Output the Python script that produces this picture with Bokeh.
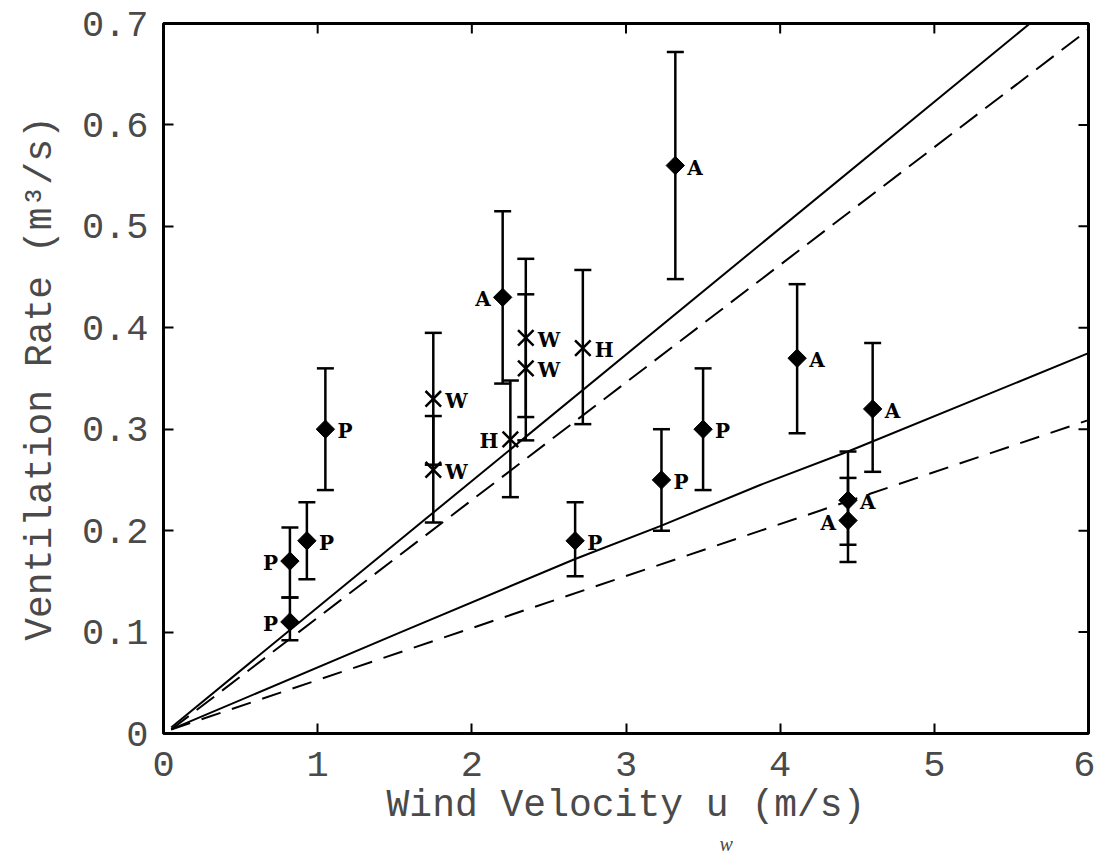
import math
from bokeh.plotting import figure
from bokeh.layouts import column
from bokeh.models import (ColumnDataSource, Whisker, TeeHead, Range1d,
                          FixedTicker, CustomJSTickFormatter)
from bokeh.core.properties import value
from bokeh.embed import file_html
from bokeh.resources import INLINE

# ---------------- data ----------------
x_ticks = [0, 1, 2, 3, 4, 5, 6]
x_tick_labels = ["0", "1", "2", "3", "4", "5", "6"]
y_ticks = [0, 0.1, 0.2, 0.3, 0.4, 0.5, 0.6, 0.7]
y_tick_labels = ["0", "0.1", "0.2", "0.3", "0.4", "0.5", "0.6", "0.7"]

# P points (filled diamonds)
p_x = [0.82, 0.82, 0.93, 1.05, 2.67, 3.23, 3.50]
p_y = [0.17, 0.11, 0.19, 0.30, 0.19, 0.25, 0.30]
p_lo = [0.134, 0.092, 0.152, 0.240, 0.155, 0.200, 0.240]
p_hi = [0.203, 0.134, 0.228, 0.360, 0.228, 0.300, 0.360]
p_side = ["l", "l", "r", "r", "r", "r", "r"]

# A points (filled diamonds)
a_x = [2.20, 3.32, 4.11, 4.60, 4.44, 4.44]
a_y = [0.43, 0.56, 0.37, 0.32, 0.23, 0.21]
a_lo = [0.345, 0.448, 0.296, 0.258, 0.186, 0.169]
a_hi = [0.515, 0.672, 0.443, 0.385, 0.278, 0.252]
a_side = ["l", "r", "r", "r", "r", "l"]

# W points (x markers)
w_x = [1.75, 1.75, 2.35, 2.35]
w_y = [0.33, 0.26, 0.39, 0.36]
w_lo = [0.265, 0.208, 0.312, 0.289]
w_hi = [0.395, 0.313, 0.468, 0.433]
w_side = ["r", "r", "r", "r"]

# H points (x markers)
h_x = [2.25, 2.72]
h_y = [0.29, 0.38]
h_lo = [0.233, 0.305]
h_hi = [0.348, 0.457]
h_side = ["l", "r"]

# model lines
up_solid_x = [0.05, 5.62]
up_solid_y = [0.006, 0.700]
up_dash_x = [0.05, 6.0]
up_dash_y = [0.004, 0.694]
lo_solid_x = [0.05, 1.54, 2.67, 3.23, 3.87, 4.44, 6.0]
lo_solid_y = [0.004, 0.100, 0.172, 0.205, 0.245, 0.278, 0.375]
lo_dash_x = [0.05, 6.0]
lo_dash_y = [0.004, 0.309]

x_title = "Wind Velocity u (m/s)"
x_title_sub = "w"
y_title = "Ventilation Rate (m\u00b3/s)"

# ---------------- figure ----------------
MONO = "Liberation Mono"
TXT = "#4a4a4a"
W = 1095
LEFT, RIGHT = 163, 7
MAIN_H = 832

p = figure(width=W, height=MAIN_H, output_backend="svg", toolbar_location=None,
           x_range=Range1d(0, 6), y_range=Range1d(0, 0.7),
           min_border_left=LEFT, min_border_right=RIGHT, min_border_top=23,
           min_border_bottom=99, background_fill_color="white",
           border_fill_color="white")
p.grid.visible = False
p.outline_line_color = "black"
p.outline_line_width = 3

for ax, ticks, labels in ((p.xaxis[0], x_ticks, x_tick_labels),
                          (p.yaxis[0], y_ticks, y_tick_labels)):
    ax.ticker = FixedTicker(ticks=ticks)
    ax.formatter = CustomJSTickFormatter(
        args=dict(t=ticks, l=labels),
        code="const i = t.indexOf(tick); return i >= 0 ? l[i] : '';")
    ax.axis_line_color = None
    ax.major_tick_in = 10
    ax.major_tick_out = 0
    ax.major_tick_line_width = 2
    ax.major_tick_line_color = "black"
    ax.minor_tick_line_color = None
    ax.major_label_text_font = MONO
    ax.major_label_text_font_size = "37px"
    ax.major_label_text_color = TXT
    ax.axis_label_text_font = MONO
    ax.axis_label_text_font_style = "normal"
    ax.axis_label_text_color = TXT
    ax.axis_label_text_font_size = "38px"

xa = p.xaxis[0]
ya = p.yaxis[0]
xa.major_label_standoff = 18
ya.major_label_standoff = 15
xa.axis_label = x_title
xa.axis_label_standoff = 5
ya.axis_label = y_title
ya.axis_label_standoff = 17

# inward ticks on the top and right edges (mirrors of the axis ticks)
p.scatter(x=x_ticks, y=[p.y_range.end] * len(x_ticks), marker="dash", angle=math.pi / 2,
          size=20, line_color="black", line_width=2)
p.scatter(x=[p.x_range.end] * len(y_ticks), y=y_ticks, marker="dash",
          size=20, line_color="black", line_width=2)

# ---------------- model lines ----------------
p.line(up_solid_x, up_solid_y, line_color="black", line_width=2)
p.line(up_dash_x, up_dash_y, line_color="black", line_width=2, line_dash="22 10")
p.line(lo_solid_x, lo_solid_y, line_color="black", line_width=2)
p.line(lo_dash_x, lo_dash_y, line_color="black", line_width=2, line_dash="20 12")

# ---------------- error bars + markers ----------------
def add_series(xs, ys, lo, hi, sides, letter, marker):
    src = ColumnDataSource(dict(x=xs, y=ys, lo=lo, hi=hi))
    wk = Whisker(source=src, base="x", lower="lo", upper="hi",
                 line_color="black", line_width=2.5,
                 upper_head=TeeHead(size=17, line_width=2.5, line_color="black"),
                 lower_head=TeeHead(size=17, line_width=2.5, line_color="black"))
    p.add_layout(wk)
    if marker == "diamond":
        p.scatter("x", "y", source=src, marker="square", angle=math.pi / 4, size=13,
                  fill_color="black", line_color="black", line_width=1)
    else:
        p.scatter("x", "y", source=src, marker="x", size=22, line_color="black",
                  line_width=2.5)
    for side, off, align in (("r", 12, "left"), ("l", -12, "right")):
        lx = [x for x, s in zip(xs, sides) if s == side]
        ly = [y for y, s in zip(ys, sides) if s == side]
        if not lx:
            continue
        p.text(x=lx, y=ly, text=[letter] * len(lx), x_offset=off, y_offset=2,
               text_align=align, text_baseline="middle",
               text_font=value("DejaVu Serif"), text_font_style="bold",
               text_font_size="20px", text_color="black")

add_series(p_x, p_y, p_lo, p_hi, p_side, "P", "diamond")
add_series(a_x, a_y, a_lo, a_hi, a_side, "A", "diamond")
add_series(w_x, w_y, w_lo, w_hi, w_side, "W", "x")
add_series(h_x, h_y, h_lo, h_hi, h_side, "H", "x")

# ---------------- subscript strip under the x-axis title ----------------
SUB_H = 855 - MAIN_H
sub = figure(width=W, height=SUB_H, output_backend="svg", toolbar_location=None,
             title=None, x_range=p.x_range, y_range=Range1d(0, SUB_H),
             x_axis_type=None, y_axis_type=None, min_border_left=LEFT,
             min_border_right=RIGHT, min_border_top=0, min_border_bottom=0,
             outline_line_color=None, background_fill_color="white",
             border_fill_color="white")
sub.grid.visible = False
sub.text(x=[3.606], y=[SUB_H], text=[x_title_sub], text_font=value("Liberation Serif"),
         text_font_style="italic", text_font_size="20px", text_color=TXT,
         text_align="left", text_baseline="top")

layout = column(p, sub, spacing=0)
open("out.html", "w").write(file_html(layout, INLINE))
